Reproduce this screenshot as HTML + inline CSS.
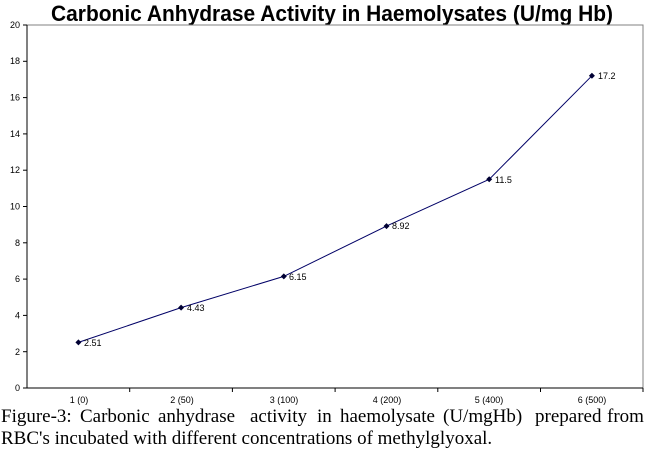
<!DOCTYPE html>
<html><head><meta charset="utf-8"><style>
html,body{margin:0;padding:0;background:#fff;width:650px;height:452px;overflow:hidden}
</style></head><body>
<svg width="650" height="452" xmlns="http://www.w3.org/2000/svg" style="display:block">
<text x="51" y="21" font-family="Liberation Sans, sans-serif" font-weight="bold" font-size="22" fill="#000" textLength="562" lengthAdjust="spacingAndGlyphs">Carbonic Anhydrase Activity in Haemolysates (U/mg Hb)</text>
<rect x="27" y="25" width="616" height="363" fill="none" stroke="#808080" stroke-width="1"/>
<line x1="27" y1="25" x2="27" y2="388" stroke="#000"/>
<line x1="27" y1="388" x2="643" y2="388" stroke="#000"/>
<g stroke="#000">
<line x1="23" y1="388" x2="27" y2="388"/><line x1="23" y1="351.7" x2="27" y2="351.7"/><line x1="23" y1="315.4" x2="27" y2="315.4"/><line x1="23" y1="279.1" x2="27" y2="279.1"/><line x1="23" y1="242.8" x2="27" y2="242.8"/><line x1="23" y1="206.5" x2="27" y2="206.5"/><line x1="23" y1="170.2" x2="27" y2="170.2"/><line x1="23" y1="133.9" x2="27" y2="133.9"/><line x1="23" y1="97.6" x2="27" y2="97.6"/><line x1="23" y1="61.3" x2="27" y2="61.3"/><line x1="23" y1="25" x2="27" y2="25"/>
<line x1="129.7" y1="388" x2="129.7" y2="392"/><line x1="232.4" y1="388" x2="232.4" y2="392"/><line x1="335.1" y1="388" x2="335.1" y2="392"/><line x1="437.8" y1="388" x2="437.8" y2="392"/><line x1="540.5" y1="388" x2="540.5" y2="392"/><line x1="643" y1="388" x2="643" y2="392"/>
</g>
<g font-family="Liberation Sans, sans-serif" font-size="9" fill="#000" text-anchor="end">
<text x="20" y="391">0</text><text x="20" y="355">2</text><text x="20" y="318.5">4</text><text x="20" y="282">6</text><text x="20" y="246">8</text><text x="20" y="209.5">10</text><text x="20" y="173">12</text><text x="20" y="137">14</text><text x="20" y="100.5">16</text><text x="20" y="64">18</text><text x="20" y="28">20</text>
</g>
<g font-family="Liberation Sans, sans-serif" font-size="9" fill="#000" text-anchor="middle">
<text x="79" y="403">1 (0)</text><text x="182" y="403">2 (50)</text><text x="284" y="403">3 (100)</text><text x="387" y="403">4 (200)</text><text x="489" y="403">5 (400)</text><text x="592" y="403">6 (500)</text>
</g>
<polyline points="78.4,342.4 181.1,307.6 283.8,276.4 386.5,226.1 489.2,179.3 591.9,75.8" fill="none" stroke="#000066" stroke-width="1"/>
<g fill="#000033">
<path d="M78.4,339.4 l3,3 l-3,3 l-3,-3z"/><path d="M181.1,304.6 l3,3 l-3,3 l-3,-3z"/><path d="M283.8,273.4 l3,3 l-3,3 l-3,-3z"/><path d="M386.5,223.1 l3,3 l-3,3 l-3,-3z"/><path d="M489.2,176.3 l3,3 l-3,3 l-3,-3z"/><path d="M591.9,72.8 l3,3 l-3,3 l-3,-3z"/>
</g>
<g font-family="Liberation Sans, sans-serif" font-size="9" fill="#000">
<text x="84" y="346">2.51</text><text x="187" y="311">4.43</text><text x="289" y="280">6.15</text><text x="392" y="229">8.92</text><text x="495" y="183">11.5</text><text x="598" y="79">17.2</text>
</g>
<g font-family="Liberation Serif, serif" font-size="19" fill="#000">
<text y="422"><tspan x="1">Figure-3:</tspan><tspan x="80">Carbonic</tspan><tspan x="158">anhydrase</tspan><tspan x="250">activity</tspan><tspan x="317">in</tspan><tspan x="340">haemolysate</tspan><tspan x="443">(U/mgHb)</tspan><tspan x="535">prepared</tspan><tspan x="607">from</tspan></text>
<text x="1" y="444">RBC's incubated with different concentrations of methylglyoxal.</text>
</g>
</svg>
</body></html>
